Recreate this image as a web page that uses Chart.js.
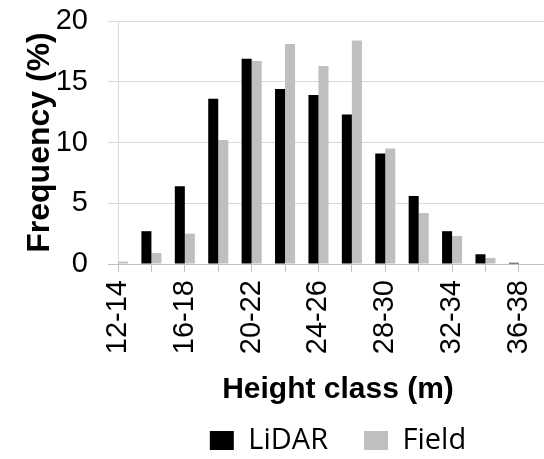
<!DOCTYPE html>
<html>
<head>
<meta charset="utf-8">
<script src="https://cdn.jsdelivr.net/npm/chart.js@4.4.0/dist/chart.umd.min.js"></script>
<style>
  html, body { margin: 0; padding: 0; background: #ffffff; }
  #wrap { width: 544px; height: 459px; overflow: hidden; position: relative; }
  #inner { width: 568px; height: 465px; position: relative; }
</style>
</head>
<body>
<div id="wrap"><div id="inner"><canvas id="heightChart"></canvas></div></div>
<script>
// Height classes (m), one bar pair per class
const categories = ["12-14", "14-16", "16-18", "18-20", "20-22", "22-24", "24-26",
  "26-28", "28-30", "30-32", "32-34", "34-36", "36-38"]

// Frequency (%) per class
const lidarValues = [0, 2.7, 6.4, 13.6, 16.9, 14.4, 13.9, 12.3, 9.1, 5.6, 2.7, 0.8, 0.1]
const fieldValues = [0.2, 0.9, 2.5, 10.2, 16.7, 18.1, 16.3, 18.4, 9.5, 4.2, 2.3, 0.5, 0]

const yTicks = [0, 5, 10, 15, 20]

const toPoints = (values) => values.map((v, i) => ({ x: i, y: v }))

const ctx = document.getElementById("heightChart")

new Chart(ctx, {
  type: "bar",
  data: {
    datasets: [
      {
        label: "LiDAR",
        data: toPoints(lidarValues),
        backgroundColor: "#000000",
        borderWidth: 0,
      },
      {
        label: "Field",
        data: toPoints(fieldValues),
        backgroundColor: "#bfbfbf",
        borderWidth: 0,
      },
    ],
  },
  options: {
    responsive: true,
    maintainAspectRatio: false,
    animation: false,
    categoryPercentage: 0.6,
    barPercentage: 1,
    layout: {
      padding: { top: 21, right: 0, bottom: 0, left: 0 },
    },
    plugins: {
      tooltip: { enabled: false },
      legend: {
        position: "bottom",
        fullSize: false,
        labels: {
          color: "#000000",
          font: { family: "'Open Sans', sans-serif", size: 29 },
          boxWidth: 24,
          boxHeight: 19,
          padding: 36,
        },
      },
    },
    scales: {
      x: {
        type: "linear",
        min: -0.3,
        max: 13.47,
        offset: false,
        afterBuildTicks: (scale) => {
          scale.ticks = categories.map((c, i) => ({ value: i }))
        },
        afterFit: (scale) => {
          scale.height = 126
          scale.paddingLeft = 0
          scale.paddingRight = 0
        },
        ticks: {
          autoSkip: false,
          minRotation: 90,
          maxRotation: 90,
          padding: 8,
          color: "#000000",
          font: { family: "'Liberation Sans', Arial, sans-serif", size: 29 },
          callback: (value, index) => (index % 2 === 0 ? categories[value] : ""),
        },
        grid: {
          offset: false,
          color: (c) => (c.tick && c.tick.value === 0 ? "#d9d9d9" : "transparent"),
          tickColor: "#bfbfbf",
          tickLength: 8,
          lineWidth: 1,
        },
        border: { display: true, color: "#bfbfbf" },
        title: {
          display: true,
          text: "Height class (m)",
          color: "#000000",
          font: { family: "'Liberation Sans', Arial, sans-serif", size: 30, weight: "bold" },
          padding: { top: 0, bottom: -18 },
        },
      },
      y: {
        min: 0,
        max: 20,
        afterBuildTicks: (scale) => {
          scale.ticks = yTicks.map((v) => ({ value: v }))
        },
        afterFit: (scale) => {
          scale.width = 108
          scale.paddingTop = 0
          scale.paddingBottom = 0
        },
        ticks: {
          padding: 20,
          color: "#000000",
          font: { family: "'Liberation Sans', Arial, sans-serif", size: 29 },
        },
        grid: {
          color: "#d9d9d9",
          drawTicks: false,
          lineWidth: 1,
        },
        border: { display: false },
        title: {
          display: true,
          text: "Frequency (%)",
          color: "#000000",
          font: { family: "'Liberation Sans', Arial, sans-serif", size: 32, weight: "bold", lineHeight: 1 },
          padding: { top: 24, bottom: 0 },
        },
      },
    },
  },
})
</script>
</body>
</html>
